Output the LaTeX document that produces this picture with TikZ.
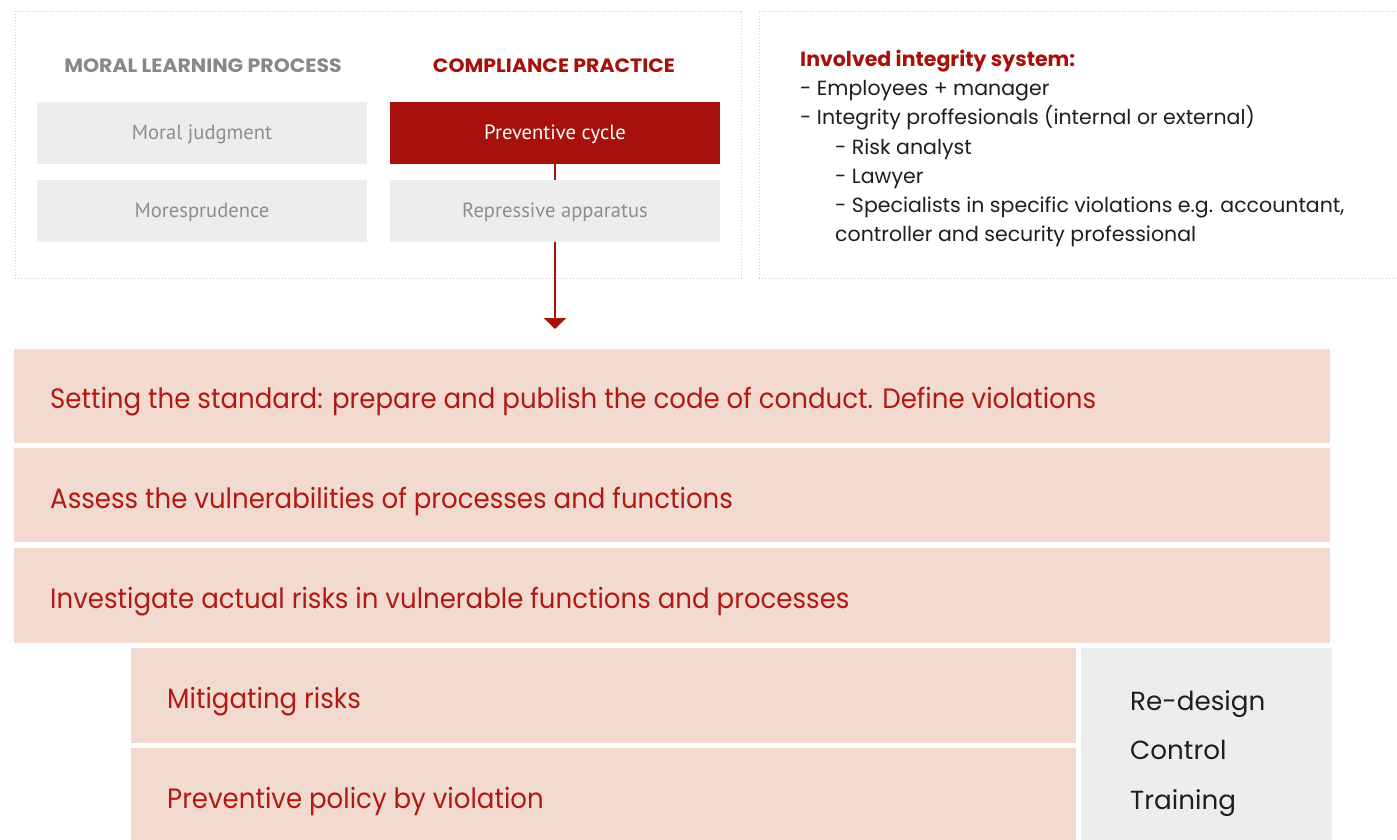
\documentclass[tikz,border=0pt]{standalone}
\usepackage{fontspec}
\setmainfont{Poppins}
\newfontfamily\boxfont{PT Sans}
\newfontfamily\headfont{Poppins}
\newfontfamily\hdrfont[FakeStretch=1.06]{Poppins}
\newfontfamily\bandfont[FakeStretch=0.93]{Poppins}
\newfontfamily\listfont{Poppins}
\usetikzlibrary{arrows.meta}
\definecolor{darkred}{HTML}{A8110B}
\definecolor{bandred}{HTML}{B01A14}
\definecolor{pinkfill}{HTML}{F3DAD0}
\definecolor{boxgray}{HTML}{EDEDED}
\definecolor{txtgray}{HTML}{8E8E8E}
\definecolor{hdgray}{HTML}{888888}
\definecolor{framecol}{HTML}{C8C8EE}
\definecolor{listtxt}{HTML}{1E1E1E}
\begin{document}
\begin{tikzpicture}[x=1pt,y=-1pt,
  frame/.style={draw=framecol, dotted, line width=1pt},
  rect/.style={anchor=north west, inner sep=0pt, outer sep=0pt, draw=none},
  graybox/.style={rect, fill=boxgray},
  redbox/.style={rect, fill=darkred},
  pinkbox/.style={rect, fill=pinkfill},
  hdr/.style={anchor=base, inner sep=0pt, font=\hdrfont\bfseries\fontsize{19.3}{23}\selectfont},
  boxtxt/.style={anchor=base, inner sep=0pt, text=txtgray, font=\boxfont\fontsize{20.6}{25}\selectfont},
  listtxt/.style={anchor=base west, inner sep=0pt, text=listtxt, font=\listfont\fontsize{20.5}{24}\selectfont},
  bandtxt/.style={anchor=base west, inner sep=0pt, text=bandred, font=\bandfont\fontsize{28}{32}\selectfont},
  tooltxt/.style={anchor=base west, inner sep=0pt, text=listtxt, font=\headfont\fontsize{26.2}{30}\selectfont},
  redline/.style={draw=darkred, line width=2.6pt, -{Triangle[width=22pt,length=11pt]}}
]
\useasboundingbox (0,0) rectangle (1397,839);
\clip (0,0) rectangle (1397,839);
\fill[white] (0,0) rectangle (1397,839);

% frames
\node[rect, frame, minimum width=726pt, minimum height=267pt] (leftframe) at (15,11) {};
\node[rect, frame, minimum width=650pt, minimum height=267pt] (rightframe) at (759,11) {};

% headers
\node[hdr, text=hdgray] (h1) at (203,72) {MORAL LEARNING PROCESS};
\node[hdr, text=darkred] (h2) at (554,72) {COMPLIANCE PRACTICE};

% boxes
\node[graybox, minimum width=330pt, minimum height=62pt] (mj) at (37,102) {};
\node[redbox, minimum width=330pt, minimum height=62pt] (pc) at (390,102) {};
\coordinate (tip) at (555,329);
\draw[redline] (pc.south) -- (tip);
\node[graybox, minimum width=330pt, minimum height=62pt] (ms) at (37,180) {};
\node[graybox, minimum width=330pt, minimum height=62pt] (ra) at (390,180) {};

\node[boxtxt] (mjt) at (202,139) {Moral judgment};
\node[boxtxt, text=white] (pct) at (555,139) {Preventive cycle};
\node[boxtxt] (mst) at (202,217) {Moresprudence};
\node[boxtxt] (rat) at (555,217) {Repressive apparatus};

% integrity list
\node[listtxt, text=darkred, font=\listfont\bfseries\fontsize{20.5}{24}\selectfont] (l0) at (800,66) {Involved integrity system:};
\node[listtxt] (l1) at (800,95) {- Employees + manager};
\node[listtxt] (l2) at (800,124) {- Integrity proffesionals (internal or external)};
\node[listtxt] (l3) at (835,154) {- Risk analyst};
\node[listtxt] (l4) at (835,183) {- Lawyer};
\node[listtxt] (l5) at (835,212) {- Specialists in specific violations e.g. accountant,};
\node[listtxt] (l6) at (835,241) {controller and security professional};

% bands
\node[pinkbox, minimum width=1316pt, minimum height=94pt] (b1) at (14,349) {};
\node[pinkbox, minimum width=1316pt, minimum height=94pt] (b2) at (14,448) {};
\node[pinkbox, minimum width=1316pt, minimum height=95pt] (b3) at (14,548) {};
\node[pinkbox, minimum width=945pt, minimum height=95pt] (b4) at (131,648) {};
\node[pinkbox, minimum width=945pt, minimum height=95pt] (b5) at (131,748) {};
\node[graybox, minimum width=251pt, minimum height=195pt] (tools) at (1081,648) {};

\node[bandtxt] (b1t) at (50,408) {Setting the standard: prepare and publish the code of conduct. Define violations};
\node[bandtxt] (b2t) at (50,508) {Assess the vulnerabilities of processes and functions};
\node[bandtxt] (b3t) at (50,608) {Investigate actual risks in vulnerable functions and processes};
\node[bandtxt] (b4t) at (167,708) {Mitigating risks};
\node[bandtxt] (b5t) at (167,808) {Preventive policy by violation};

\node[tooltxt] (t1) at (1130,710) {Re-design};
\node[tooltxt] (t2) at (1130,759) {Control};
\node[tooltxt] (t3) at (1130,809) {Training};
\end{tikzpicture}
\end{document}
